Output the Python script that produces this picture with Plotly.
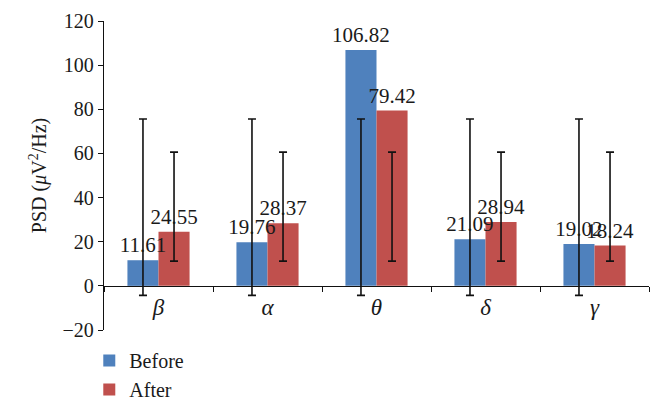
import plotly.graph_objects as go

# ─── DATA ─────────────────────────────────────────────────────────────────────
bands = ["<i>β</i>", "<i>α</i>", "<i>θ</i>", "<i>δ</i>", "<i>γ</i>"]
before = [11.61, 19.76, 106.82, 21.09, 19.02]
after = [24.55, 28.37, 79.42, 28.94, 18.24]

# error bar ends (same span for every band)
before_err_low = [-4.3, -4.3, -4.3, -4.3, -4.3]
before_err_high = [75.6, 75.6, 75.6, 75.6, 75.6]
after_err_low = [11.2, 11.2, 11.2, 11.2, 11.2]
after_err_high = [60.6, 60.6, 60.6, 60.6, 60.6]

BLUE = "#4F81BD"
RED = "#C0504D"
CLEAR = "rgba(0,0,0,0)"
SERIF = "Liberation Serif, Times New Roman, serif"
FONT = dict(family=SERIF, size=20, color="#1a1a1a")

fig = go.Figure()

for name, vals, col, grp in [("Before", before, BLUE, "b"), ("After", after, RED, "a")]:
    fig.add_trace(go.Bar(
        x=bands, y=vals, name=name,
        marker=dict(color=col, line=dict(width=0)),
        offsetgroup=grp,
    ))

# error bars drawn on transparent bars sharing the same offset group
for lows, highs, grp in [(before_err_low, before_err_high, "b"), (after_err_low, after_err_high, "a")]:
    mids = [(lo + hi) / 2 for lo, hi in zip(lows, highs)]
    half = [(hi - lo) / 2 for lo, hi in zip(lows, highs)]
    fig.add_trace(go.Bar(
        x=bands, y=mids,
        marker=dict(color=CLEAR, line=dict(width=0)),
        offsetgroup=grp,
        showlegend=False,
        hoverinfo="skip",
        error_y=dict(type="data", array=half, symmetric=True,
                     color="#111111", thickness=1.6, width=4),
    ))

# value labels last, so they sit on top of the neighbouring bars
for vals, grp in [(before, "b"), (after, "a")]:
    fig.add_trace(go.Bar(
        x=bands, y=vals,
        marker=dict(color=CLEAR, line=dict(width=0)),
        offsetgroup=grp,
        showlegend=False,
        hoverinfo="skip",
        text=[f"{v:.2f}" for v in vals],
        textposition="outside",
        textfont=dict(family=SERIF, size=21, color="#1a1a1a"),
        constraintext="none",
        cliponaxis=False,
    ))

# page body has an 8px margin, so the figure is sized to fit the window
fig.update_layout(
    width=654, height=402,
    paper_bgcolor="white", plot_bgcolor="white",
    font=FONT,
    margin=dict(l=96, r=13, t=13, b=80, autoexpand=False),
    barmode="group",
    bargap=0.43,
    bargroupgap=0,
    showlegend=True,
    legend=dict(
        x=-0.027, y=-0.036, xanchor="left", yanchor="top",
        orientation="v", font=FONT, tracegroupgap=0,
        bgcolor="rgba(0,0,0,0)",
    ),
    xaxis=dict(
        anchor="free", position=20 / 140, automargin=False,
        showline=True, linecolor="#111111", linewidth=1.3,
        ticks="outside", ticklen=5, tickcolor="#111111", tickwidth=1.3,
        tickson="boundaries",
        showgrid=False, zeroline=False,
        tickfont=dict(family=SERIF, size=23, color="#1a1a1a"),
    ),
    yaxis=dict(
        range=[-20, 120], dtick=20, domain=[0, 1], automargin=False,
        showline=True, linecolor="#111111", linewidth=1.3,
        ticks="outside", ticklen=5, tickcolor="#111111", tickwidth=1.3,
        showgrid=False, zeroline=False,
        title=dict(text="PSD (<i>μ</i>V<sup>2</sup>/Hz)", font=FONT, standoff=10),
        tickfont=FONT,
    ),
)

fig.write_html("out.html")
